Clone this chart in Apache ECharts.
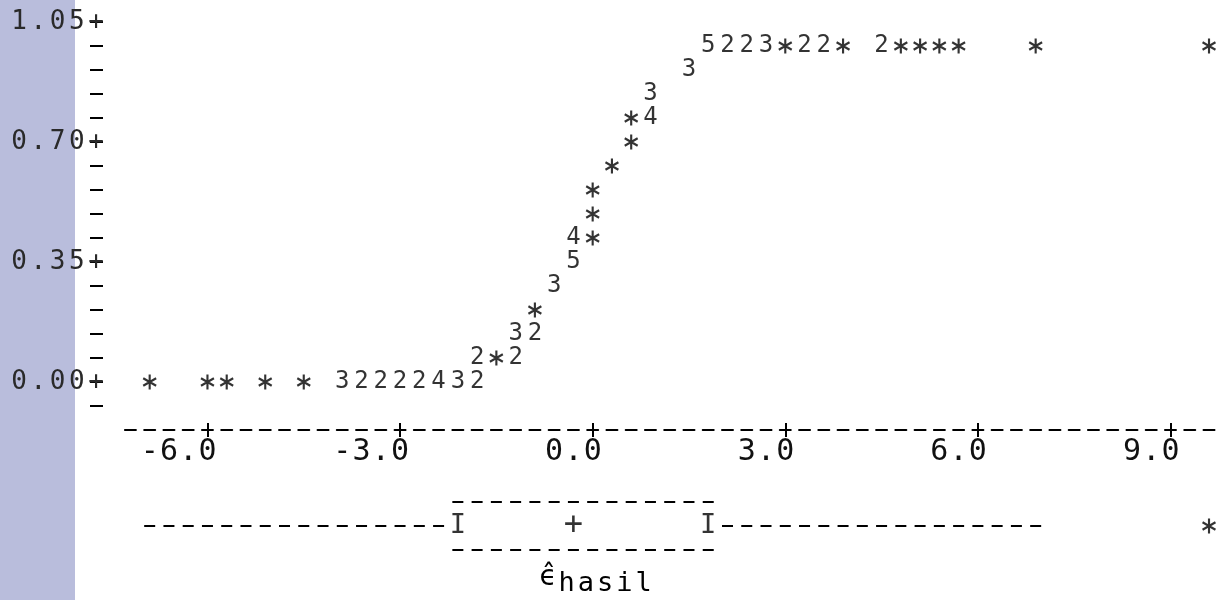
<!DOCTYPE html>
<html>
<head>
<meta charset="utf-8">
<title>Plot residual vs hasil</title>
<script src="https://cdn.jsdelivr.net/npm/echarts@6/dist/echarts.min.js"></script>
<style>
  html, body { margin: 0; padding: 0; background: #fff; }
  #chart { width: 1226px; height: 600px; }
</style>
</head>
<body>
<div id="chart"></div>
<script>
// axis ticks
const xTicks = [-6, -3, 0, 3, 6, 9];
const yTicks = [0, 0.35, 0.7, 1.05];

// printed cells of the character plot: x, y and how many points fall in the cell (1 = *)
const cellX = [
  -6.9, -6.0, -5.7, -5.1, -4.5, -3.9, -3.6, -3.3, -3.0, -2.7, -2.4, -2.1, -1.8,
  -1.8, -1.5, -1.2,
  -1.2, -0.9,
  -0.9,
  -0.6,
  -0.3,
  -0.3, 0.0,
  0.0,
  0.0,
  0.3,
  0.6,
  0.6, 0.9,
  0.9,
  1.5,
  1.8, 2.1, 2.4, 2.7, 3.0, 3.3, 3.6, 3.9, 4.5, 4.8, 5.1, 5.4, 5.7, 6.9, 9.6
];
const cellY = [
  0, 0, 0, 0, 0, 0, 0, 0, 0, 0, 0, 0, 0,
  0.07, 0.07, 0.07,
  0.14, 0.14,
  0.21,
  0.28,
  0.35,
  0.42, 0.42,
  0.49,
  0.56,
  0.63,
  0.70,
  0.77, 0.77,
  0.84,
  0.91,
  0.98, 0.98, 0.98, 0.98, 0.98, 0.98, 0.98, 0.98, 0.98, 0.98, 0.98, 0.98, 0.98, 0.98, 0.98
];
const cellN = [
  1, 1, 1, 1, 1, 3, 2, 2, 2, 2, 4, 3, 2,
  2, 1, 2,
  3, 2,
  1,
  3,
  5,
  4, 1,
  1,
  1,
  1,
  1,
  1, 4,
  3,
  3,
  5, 2, 2, 3, 1, 2, 2, 1, 2, 1, 1, 1, 1, 1, 1
];

// boxplot of the residuals: lower whisker, Q1, median, Q3, upper whisker
const boxStats = [-6.9, -2.1, -0.3, 1.8, 6.9];
const outliers = [9.6];

const xMin = -7.3, xMax = 9.74, yMin = -0.07, yMax = 1.05;
const gridLeft = 124, gridRight = 8;
const yAxisX = 103; // where the printed y axis column ends
const cell = 0.3;   // one printed character column, in x units
const mono = 'DejaVu Sans Mono';

const pxPerUnit = (1226 - gridLeft - gridRight) / (xMax - xMin);
const cellPx = cell * pxPerUnit;
const dash = 11;
const halfDash = dash / 2 / pxPerUnit;
const px0 = gridLeft + (0 - xMin) * pxPerUnit;
const phase = ((px0 - dash / 2 - gridLeft) % cellPx + cellPx) % cellPx;
const axisDashOffset = cellPx - phase;

const starPath = 'path://M-1,-7L1,-7L1,7L-1,7Z' +
  'M5.56,4.37L-6.56,-2.63L-5.56,-4.37L6.56,2.63Z' +
  'M-5.56,4.37L-6.56,2.63L5.56,-4.37L6.56,-2.63Z';

function cells(s) {
  return s.split('').map(ch => '{c|' + ch + '}').join('');
}
function cellStyle(size, color) {
  return { c: { width: cellPx, lineHeight: 20, align: 'center', fontFamily: mono, fontSize: size, color: color } };
}

const digits = [], stars = [];
cellX.forEach((x, i) => {
  if (cellN[i] > 1) digits.push([x, cellY[i], cellN[i]]);
  else stars.push([x, cellY[i]]);
});

const [lo, q1, med, q3, hi] = boxStats;
const dashLine = { color: '#000', width: 2, type: [dash, cellPx - dash] };
function boxLine(a, b, row) {
  return {
    type: 'line', xAxisIndex: 2, yAxisIndex: 1, silent: true,
    symbol: 'none', lineStyle: dashLine,
    data: [[a, row], [b, row]]
  };
}

const chart = echarts.init(document.getElementById('chart'));
chart.setOption({
  animation: false,
  backgroundColor: '#fff',
  graphic: [
    { type: 'rect', z: -10, silent: true, shape: { x: 0, y: 0, width: 75, height: 600 }, style: { fill: '#b9bddc' } },
    { type: 'text', x: 548, y: 578, style: { text: 'ϵ\u0302', font: '28px "DejaVu Sans"', fill: '#000', align: 'center', verticalAlign: 'middle' } },
    { type: 'text', x: 557, y: 584, style: { text: cells('hasil'), rich: cellStyle(27, '#000'), align: 'left', verticalAlign: 'middle' } }
  ],
  grid: [
    { left: gridLeft, right: gridRight, top: 22, bottom: 194, outerBoundsMode: 'none' },
    { left: gridLeft, right: gridRight, top: 502, height: 48, outerBoundsMode: 'none' }
  ],
  xAxis: [
    {
      type: 'value', gridIndex: 0, min: xMin, max: xMax, position: 'bottom', offset: 24,
      splitLine: { show: false },
      axisLine: { show: true, onZero: false, lineStyle: { color: '#000', width: 2, type: [dash, cellPx - dash], dashOffset: axisDashOffset } },
      axisTick: { show: true, customValues: xTicks, length: 7, lineStyle: { color: '#000', width: 2 } },
      axisLabel: {
        customValues: xTicks, margin: 12,
        formatter: v => {
          const s = Number(v).toFixed(1);
          return cells(s) + '{c| }'.repeat(s.length - 1);
        },
        rich: cellStyle(30, '#111')
      }
    },
    {
      type: 'value', gridIndex: 0, min: xMin, max: xMax, position: 'bottom', offset: 24,
      splitLine: { show: false },
      axisLine: { show: false, onZero: false },
      axisTick: { show: true, inside: true, customValues: xTicks, length: 7, lineStyle: { color: '#000', width: 2 } },
      axisLabel: { show: false }
    },
    { type: 'value', gridIndex: 1, min: xMin, max: xMax, show: false }
  ],
  yAxis: [
    {
      type: 'value', gridIndex: 0, min: yMin, max: yMax, interval: 0.07,
      position: 'left', offset: gridLeft - yAxisX,
      splitLine: { show: false },
      axisLine: { show: false, onZero: false },
      axisTick: { show: true, length: 13, lineStyle: { color: '#000', width: 2 } },
      axisLabel: {
        customValues: yTicks,
        margin: yAxisX - (96 + cellPx / 2),
        formatter: v => cells(Number(v).toFixed(2) + '+'),
        rich: cellStyle(26, '#2a2a2a')
      }
    },
    { type: 'value', gridIndex: 1, min: -1, max: 1, show: false }
  ],
  series: [
    {
      type: 'scatter', xAxisIndex: 0, yAxisIndex: 0, silent: true,
      data: digits, symbolSize: 1, itemStyle: { color: 'rgba(0,0,0,0)' },
      label: {
        show: true, position: 'inside', formatter: p => String(p.value[2]),
        fontFamily: mono, fontSize: 24, color: '#000', textBorderWidth: 0
      }
    },
    {
      type: 'scatter', xAxisIndex: 0, yAxisIndex: 0, silent: true,
      data: stars, symbol: starPath, symbolSize: [14, 15], itemStyle: { color: '#000' }
    },
    boxLine(q1 - halfDash, q3 + halfDash, 1),
    boxLine(q1 - halfDash, q3 + halfDash, -1),
    boxLine(lo - halfDash, q1 - cell + halfDash, 0),
    boxLine(q3 + cell - halfDash, hi + halfDash, 0),
    {
      type: 'scatter', xAxisIndex: 2, yAxisIndex: 1, silent: true,
      symbolSize: 1, itemStyle: { color: 'rgba(0,0,0,0)' },
      label: { show: true, position: 'inside', fontFamily: mono, fontSize: 27, color: '#000', textBorderWidth: 0 },
      data: [
        { value: [q1, 0], label: { formatter: 'I' } },
        { value: [med, 0], label: { formatter: '+', fontSize: 32 } },
        { value: [q3, 0], label: { formatter: 'I' } }
      ]
    },
    {
      type: 'scatter', xAxisIndex: 2, yAxisIndex: 1, silent: true,
      data: outliers.map(x => [x, 0]), symbol: starPath, symbolSize: [14, 15], itemStyle: { color: '#000' }
    }
  ]
});
</script>
</body>
</html>
